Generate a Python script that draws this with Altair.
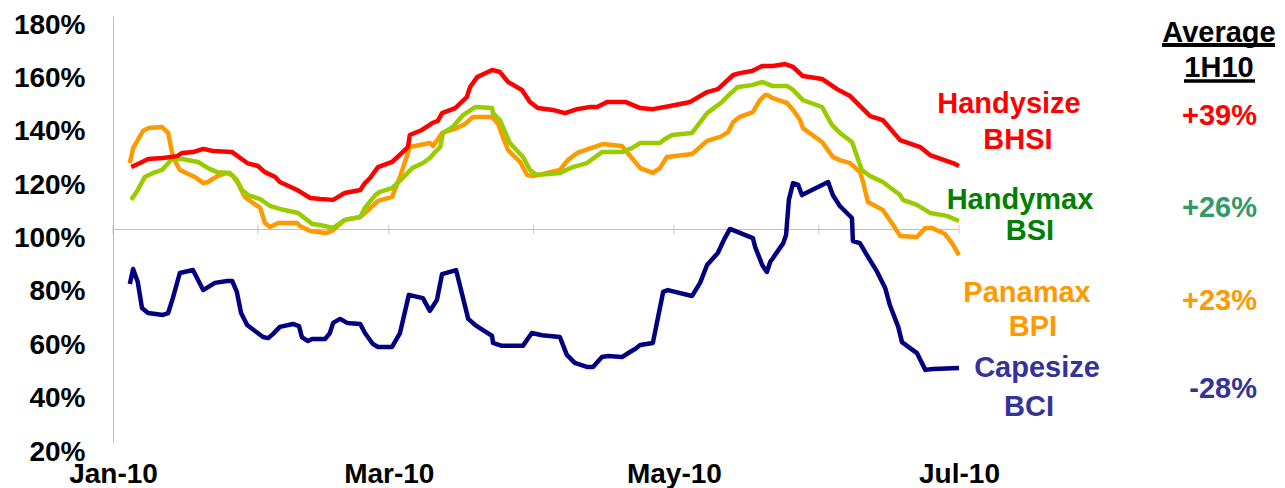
import altair as alt
import pandas as pd

# ---- data (day offset from 1 Jan 2010, index level in %) ----
month_starts = ["2010-01-01", "2010-02-01", "2010-03-01", "2010-04-01",
                "2010-05-01", "2010-06-01", "2010-07-01"]

hs_days = [3.9, 5.8, 7.5, 10.7, 13.7, 14.8, 17.1, 19.3, 21.4, 25.5, 28.7, 31.0, 32.5, 34.7,
           35.7, 39.4, 40.4, 42.2, 44.3, 47.1, 49.6, 52.9, 53.9, 55.0, 56.7, 59.7, 61.8, 63.1,
           63.5, 66.1, 68.3, 69.5, 70.4, 73.2, 75.7, 76.4, 77.9, 81.1, 82.8, 84.5, 87.5, 89.2,
           90.9, 94.1, 96.7, 99.3, 102.1, 103.6, 105.7, 109.6, 112.8, 115.5, 119.2, 123.5,
           127.1, 129.4, 132.7, 134.1, 136.7, 138.9, 141.2, 143.8, 145.5, 147.6, 151.7, 154.9,
           157.7, 162.0, 164.7, 168.4, 172.7, 174.8, 179.7, 181.0]
hs_vals = [123.4, 124.9, 126.4, 126.8, 127.5, 128.7, 129.0, 130.2, 129.4, 129.0, 124.9, 123.8,
           121.5, 119.7, 117.8, 114.8, 113.7, 111.8, 111.4, 111.1, 113.7, 114.8, 117.4, 119.3,
           123.4, 125.3, 128.7, 130.9, 135.4, 137.3, 139.9, 140.7, 143.6, 145.5, 149.6, 153.4,
           157.1, 159.8, 159.0, 155.3, 152.3, 147.8, 145.5, 144.8, 143.6, 145.1, 145.9, 145.9,
           147.8, 147.8, 145.5, 145.1, 146.3, 147.8, 151.5, 152.6, 157.9, 158.6, 159.4, 161.3,
           161.3, 162.0, 160.9, 157.5, 156.4, 152.6, 150.0, 142.5, 141.0, 133.5, 130.9, 127.9,
           124.9, 123.8]

hm_days = [3.9, 5.3, 6.8, 8.6, 10.5, 12.6, 14.8, 18.2, 20.3, 22.3, 25.0, 26.5, 27.6, 28.9,
           31.5, 33.6, 35.7, 39.6, 42.6, 44.3, 47.1, 49.6, 52.9, 53.9, 56.1, 57.1, 59.7, 62.0,
           64.0, 66.3, 67.8, 68.9, 70.0, 70.6, 72.7, 74.9, 77.5, 81.1, 81.3, 82.8, 84.9, 87.7,
           89.2, 90.7, 95.6, 98.4, 101.4, 104.6, 108.9, 111.0, 112.8, 117.0, 118.1, 119.6,
           123.9, 127.1, 130.3, 132.0, 133.7, 136.7, 138.9, 141.0, 144.2, 145.5, 147.6, 151.7,
           153.8, 155.5, 158.1, 160.2, 162.0, 164.7, 168.4, 169.0, 172.0, 174.8, 178.4, 181.0]
hm_vals = [111.1, 114.8, 119.7, 121.2, 122.3, 126.4, 126.4, 125.3, 123.0, 121.5, 121.2, 118.5,
           114.8, 112.9, 111.4, 108.8, 107.7, 106.2, 102.1, 101.7, 100.6, 103.6, 104.7, 108.1,
           112.9, 114.1, 115.5, 119.3, 123.0, 124.9, 126.8, 129.0, 130.9, 136.2, 138.4, 142.9,
           145.9, 145.5, 143.6, 141.0, 132.4, 127.2, 122.3, 120.4, 121.2, 123.4, 124.9, 129.0,
           129.0, 130.5, 132.4, 132.4, 133.9, 135.4, 136.2, 143.6, 147.8, 150.8, 153.4, 154.1,
           155.3, 153.8, 153.8, 152.3, 148.5, 145.9, 139.2, 136.2, 132.8, 122.3, 120.0, 117.8,
           112.9, 111.1, 109.2, 106.2, 105.1, 103.2]

pm_days = [3.6, 4.3, 6.4, 7.5, 10.5, 11.8, 12.8, 14.3, 17.5, 19.3, 20.3, 22.3, 24.4, 25.7,
           26.7, 28.2, 30.0, 31.5, 32.5, 33.6, 35.3, 39.4, 40.0, 42.2, 45.4, 46.4, 47.1, 49.6,
           52.9, 54.6, 56.7, 59.7, 61.4, 63.5, 67.8, 68.5, 70.4, 73.6, 75.3, 77.0, 81.1, 82.4,
           83.4, 84.5, 87.1, 88.6, 89.9, 95.6, 97.3, 99.3, 104.8, 108.9, 111.0, 112.8, 115.5,
           117.0, 118.5, 123.9, 127.1, 129.9, 131.6, 132.7, 134.1, 136.9, 138.4, 139.5, 140.1,
           141.0, 144.2, 145.5, 147.0, 147.6, 151.7, 154.0, 155.5, 157.7, 159.8, 160.5, 161.5,
           164.7, 166.9, 168.4, 172.0, 173.8, 175.2, 178.0, 179.5, 181.0]
pm_vals = [124.9, 130.5, 136.9, 138.0, 138.4, 136.2, 127.2, 122.3, 119.7, 117.4, 117.8, 120.0,
           121.2, 120.0, 117.4, 112.2, 109.9, 108.1, 102.4, 100.9, 102.4, 102.4, 101.3, 99.4,
           98.7, 99.1, 99.8, 103.6, 104.7, 107.3, 110.7, 112.2, 119.7, 130.9, 132.4, 131.3,
           136.2, 138.0, 139.5, 142.2, 142.2, 139.5, 134.7, 129.8, 125.3, 120.4, 120.0, 122.3,
           126.0, 128.7, 132.0, 131.3, 126.8, 123.0, 121.2, 123.0, 127.2, 128.3, 133.2, 134.7,
           136.5, 140.3, 142.2, 144.0, 148.5, 150.4, 150.4, 149.3, 147.4, 144.8, 141.0, 138.0,
           132.8, 127.2, 126.0, 124.9, 121.5, 117.8, 110.3, 107.3, 101.7, 97.6, 97.2, 100.6,
           100.6, 98.3, 94.9, 90.4]

cs_days = [3.6, 4.3, 5.3, 6.2, 7.5, 10.7, 11.8, 12.8, 14.3, 17.1, 19.3, 21.8, 24.4, 25.5,
           26.5, 27.4, 28.7, 32.1, 33.2, 34.2, 35.7, 38.5, 39.8, 40.4, 41.7, 42.6, 45.4, 46.4,
           47.1, 48.6, 50.1, 52.9, 53.9, 55.6, 56.7, 59.7, 61.4, 63.3, 66.3, 67.8, 69.3, 70.4,
           73.4, 76.0, 77.5, 81.1, 81.3, 83.2, 87.7, 89.6, 91.8, 95.6, 97.1, 98.8, 101.4, 102.7,
           104.6, 105.9, 108.9, 110.6, 111.7, 112.8, 115.5, 117.7, 118.7, 123.9, 125.6, 127.1,
           129.4, 130.9, 132.0, 136.9, 137.4, 138.9, 139.9, 140.6, 143.4, 144.0, 144.6, 145.5,
           146.6, 147.4, 153.0, 154.0, 155.5, 158.1, 158.3, 159.8, 161.3, 163.5, 165.2, 166.2,
           168.0, 168.8, 172.0, 173.8, 175.4, 181.0]
cs_vals = [79.6, 85.2, 80.3, 70.6, 68.7, 68.0, 68.7, 74.3, 83.7, 84.8, 77.3, 80.0, 80.7, 80.7,
           76.6, 68.7, 64.2, 59.7, 59.3, 60.8, 63.5, 64.6, 63.8, 59.7, 58.2, 59.0, 59.0, 61.2,
           65.0, 66.5, 65.0, 64.6, 61.2, 57.1, 56.0, 56.0, 61.2, 75.5, 74.3, 69.5, 73.6, 83.3,
           84.8, 66.5, 64.2, 60.1, 57.5, 56.4, 56.4, 61.2, 60.4, 59.7, 53.0, 50.0, 48.5, 48.5,
           52.2, 52.6, 52.2, 54.1, 55.2, 56.7, 57.5, 76.6, 77.3, 75.1, 80.0, 86.7, 91.2, 96.8,
           100.2, 96.8, 93.4, 86.7, 84.1, 87.8, 94.9, 97.9, 111.1, 117.4, 116.7, 112.9, 117.8,
           112.9, 108.8, 104.3, 95.7, 94.9, 90.4, 84.1, 78.1, 71.7, 63.5, 57.8, 53.7, 47.4, 47.7,
           48.1]

series_names = ["Handysize", "Handymax", "Panamax", "Capesize"]
index_names = ["BHSI", "BSI", "BPI", "BCI"]
averages = ["+39%", "+26%", "+23%", "-28%"]
header = ["Average", "1H10"]

# ---- styling ----
FONT = "Liberation Sans"
line_colors = ["#FF0000", "#99CC00", "#FF9900", "#000080"]
label_colors = ["#FF0000", "#008000", "#FF9900", "#333399"]
avg_colors = ["#FF0000", "#339966", "#FF9900", "#333399"]

base = pd.Timestamp("2010-01-01")


def frame(days, vals):
    return pd.DataFrame({"date": base + pd.to_timedelta(days, unit="D"), "value": vals})


x_enc = alt.X(
    "date:T",
    scale=alt.Scale(domain=[alt.DateTime(year=2010, month=1, date=1),
                            alt.DateTime(year=2010, month=7, date=1)]),
    axis=alt.Axis(
        values=[alt.DateTime(year=2010, month=m, date=1) for m in (1, 3, 5, 7)],
        format="%b-%y", title=None, domain=False, ticks=False, grid=False,
        labelFont=FONT, labelFontSize=28, labelFontWeight="bold", labelColor="black",
        labelPadding=17, labelFlush=False, labelOverlap=False, labelBound=False,
    ),
)
y_enc = alt.Y(
    "value:Q",
    scale=alt.Scale(domain=[20, 180], nice=False, zero=False),
    axis=alt.Axis(
        values=list(range(20, 181, 20)), labelExpr="datum.value + '%'",
        title=None, grid=False, ticks=False, domain=True, domainColor="#c0c0c0",
        domainWidth=1, labelFont=FONT, labelFontSize=28, labelFontWeight="bold",
        labelColor="black", labelPadding=28, labelOffset=9, labelBound=False,
    ),
)

layers = []

# 100% baseline with monthly tick marks
base_df = pd.DataFrame({"date": [pd.Timestamp(month_starts[0])],
                        "end": [pd.Timestamp(month_starts[-1])], "value": [100]})
layers.append(alt.Chart(base_df).mark_rule(color="#c0c0c0", strokeWidth=1).encode(
    x=x_enc, x2="end:T", y=y_enc))
tick_df = pd.DataFrame({"date": pd.to_datetime(month_starts), "value": 100})
layers.append(alt.Chart(tick_df).mark_tick(orient="vertical", size=9, thickness=1,
                                           color="#b0b0b0").encode(x=x_enc, y=y_enc))

series = [(hs_days, hs_vals), (hm_days, hm_vals), (pm_days, pm_vals), (cs_days, cs_vals)]
draw_order = [3, 2, 1, 0]
for i in draw_order:
    d, v = series[i]
    layers.append(alt.Chart(frame(d, v)).mark_line(
        color=line_colors[i], strokeWidth=4.5, strokeJoin="round", strokeCap="butt"
    ).encode(x=x_enc, y=y_enc))

# series labels (two lines each), positions in plot pixels
name_pos = [(896, 88), (907, 184), (914, 277), (924, 352)]
idx_pos = [(905, 124), (917, 215), (920, 311), (916, 391)]
avg_pos = [(1144, 100), (1144, 192), (1144, 285), (1144, 373)]


def txt(text, x, y, color, align="center"):
    return alt.Chart().mark_text(
        text=text, font=FONT, fontSize=29, fontWeight="bold", color=color,
        align=align, baseline="middle"
    ).encode(x=alt.value(x), y=alt.value(y))


for i in range(4):
    layers.append(txt(series_names[i], *name_pos[i], label_colors[i]))
    layers.append(txt(index_names[i], *idx_pos[i], label_colors[i]))
    layers.append(txt(averages[i], *avg_pos[i], avg_colors[i], align="right"))

HX = 1106
layers.append(txt(header[0], HX, 17, "black"))
layers.append(txt(header[1], HX, 52, "black"))
layers.append(alt.Chart().mark_rule(color="black", strokeWidth=4).encode(
    x=alt.value(HX - 57), x2=alt.value(HX + 56), y=alt.value(29)))
layers.append(alt.Chart().mark_rule(color="black", strokeWidth=3.5).encode(
    x=alt.value(HX - 35), x2=alt.value(HX + 36), y=alt.value(65)))

chart = alt.layer(*layers).properties(
    width=846, height=427,
    autosize=alt.AutoSizeParams(type="none"),
    padding={"left": 105, "top": 8, "right": 318, "bottom": 45},
    background="white",
).configure_view(stroke=None)

chart.save("out.html", embed_options={"renderer": "svg", "actions": False})
